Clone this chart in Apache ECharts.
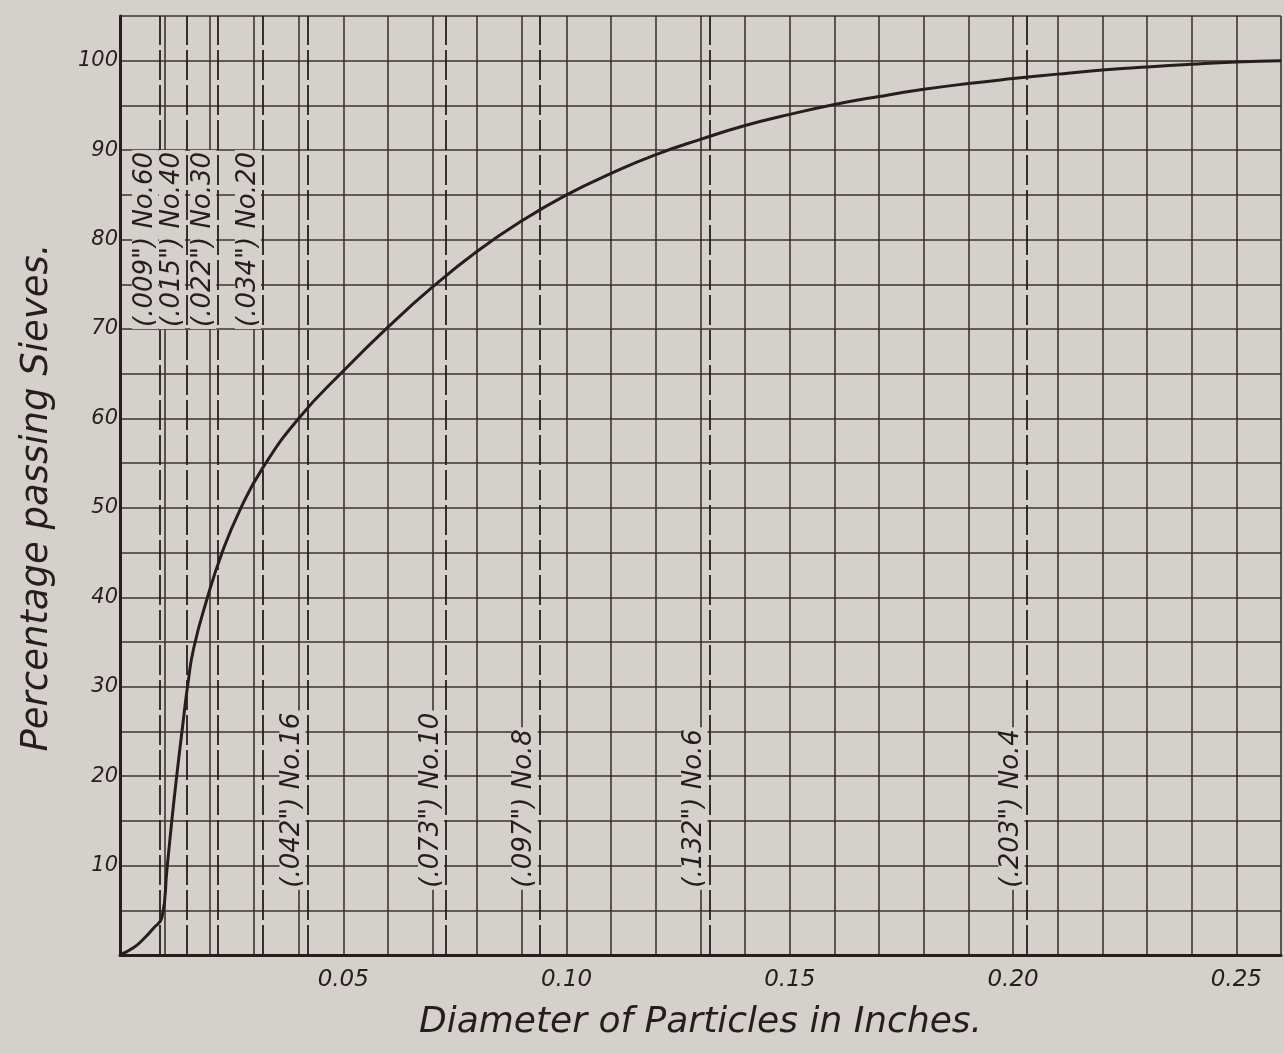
<!DOCTYPE html>
<html>
<head>
<meta charset="utf-8">
<style>
  html, body { margin: 0; padding: 0; background: #d4d0cc; }
  #chart { width: 1284px; height: 1054px; }
</style>
<script src="https://cdn.jsdelivr.net/npm/echarts@6/dist/echarts.min.js"></script>
</head>
<body>
<div id="chart"></div>
<script>
// ---- data ----
const diameter = [0, 0.003, 0.0051, 0.0075, 0.0094, 0.0105, 0.0116, 0.0127, 0.014, 0.0152, 0.0165, 0.0196, 0.0228, 0.0268, 0.032, 0.04, 0.05, 0.06, 0.07, 0.08, 0.09, 0.10, 0.11, 0.12, 0.13, 0.14, 0.15, 0.16, 0.17, 0.18, 0.19, 0.20, 0.21, 0.22, 0.23, 0.24, 0.25, 0.26];
const passing  = [0, 0.8, 1.7, 3.0, 4.2, 9.5, 15, 20, 25.5, 30.3, 34.3, 40, 44.9, 49.7, 54.5, 60.0, 65.3, 70.2, 74.7, 78.7, 82.1, 85.0, 87.4, 89.5, 91.2, 92.75, 94.0, 95.1, 96.0, 96.8, 97.45, 98.0, 98.5, 98.95, 99.3, 99.6, 99.85, 100];

const sieveNames = ['No.60', 'No.40', 'No.30', 'No.20', 'No.16', 'No.10', 'No.8', 'No.6', 'No.4'];
const sieveOpenings = ['.009', '.015', '.022', '.034', '.042', '.073', '.097', '.132', '.203'];
const sieveLineAt = [0.009, 0.015, 0.022, 0.032, 0.042, 0.073, 0.094, 0.132, 0.203];

const xTickValues = [0.05, 0.10, 0.15, 0.20, 0.25];
const xTickLabels = ['0.05', '0.10', '0.15', '0.20', '0.25'];
const yTickValues = [10, 20, 30, 40, 50, 60, 70, 80, 90, 100];
const yTickLabels = ['10', '20', '30', '40', '50', '60', '70', '80', '90', '100'];

const xTitle = 'Diameter of Particles in Inches.';
const yTitle = 'Percentage passing Sieves.';

// ---- styling / layout ----
const PAPER = '#d4d0cc';
const INK = '#241f1d';
const GRIDINK = '#3b3532';
const FONT = '"DejaVu Sans", sans-serif';
const upperLabelY = 70;
const lowerLabelY = 7.3;

const curve = diameter.map((d, i) => [d, passing[i]]);
const labelData = sieveLineAt.map((x, i) => ({
  value: [x, i < 4 ? upperLabelY : lowerLabelY],
  label: { formatter: '(' + sieveOpenings[i] + '") ' + sieveNames[i] }
}));

function fmt(values, labels) {
  return function (v) {
    for (let i = 0; i < values.length; i++) {
      if (Math.abs(v - values[i]) < 1e-6) return labels[i];
    }
    return '';
  };
}

const chart = echarts.init(document.getElementById('chart'), null, { renderer: 'canvas' });
chart.setOption({
  backgroundColor: PAPER,
  animation: false,
  grid: { left: 120, right: 0, top: 16, bottom: 99, containLabel: false },
  xAxis: {
    type: 'value', min: 0, max: 0.26, interval: 0.01,
    name: xTitle, nameLocation: 'middle', nameGap: 50,
    nameTextStyle: { fontFamily: FONT, fontStyle: 'italic', fontWeight: 'normal', fontSize: 36, color: INK },
    axisLine: { show: true, lineStyle: { color: INK, width: 3 } },
    axisTick: { show: false },
    axisLabel: {
      formatter: fmt(xTickValues, xTickLabels), margin: 14, showMaxLabel: true,
      fontFamily: FONT, fontStyle: 'italic', fontWeight: 'normal', fontSize: 23, color: INK
    },
    splitLine: { show: true, lineStyle: { color: GRIDINK, width: 1.6 } }
  },
  yAxis: {
    type: 'value', min: 0, max: 105, interval: 5,
    name: yTitle, nameLocation: 'middle', nameGap: 64, nameRotate: 90,
    nameTextStyle: { fontFamily: FONT, fontStyle: 'italic', fontWeight: 'normal', fontSize: 37, color: INK, padding: [0, 24, 0, 0] },
    axisLine: { show: true, lineStyle: { color: INK, width: 3 } },
    axisTick: { show: false },
    axisLabel: {
      formatter: fmt(yTickValues, yTickLabels), margin: 2,
      fontFamily: FONT, fontStyle: 'italic', fontWeight: 'normal', fontSize: 21, color: INK
    },
    splitLine: { show: true, lineStyle: { color: GRIDINK, width: 1.6 } }
  },
  series: [
    {
      type: 'line', data: curve, smooth: 0.5, showSymbol: false, symbol: 'none',
      lineStyle: { color: INK, width: 3 }, z: 5,
      markLine: {
        silent: true, symbol: 'none', animation: false, precision: 5,
        label: { show: false },
        lineStyle: { color: INK, width: 1.8, type: [30, 5] },
        data: sieveLineAt.map(x => ({ xAxis: x }))
      }
    },
    {
      type: 'scatter', data: labelData, symbolSize: 0,
      itemStyle: { color: INK, opacity: 1 }, z: 6, silent: true,
      label: {
        show: true, position: [0, 0], rotate: 90, align: 'left', verticalAlign: 'bottom',
        offset: [0, -2],
        fontFamily: FONT, fontStyle: 'italic', fontWeight: 'normal', fontSize: 26, color: INK, opacity: 1,
        backgroundColor: PAPER, padding: [0, 2, 0, 2], lineHeight: 26,
        textBorderWidth: 0
      }
    }
  ]
});
</script>
</body>
</html>
